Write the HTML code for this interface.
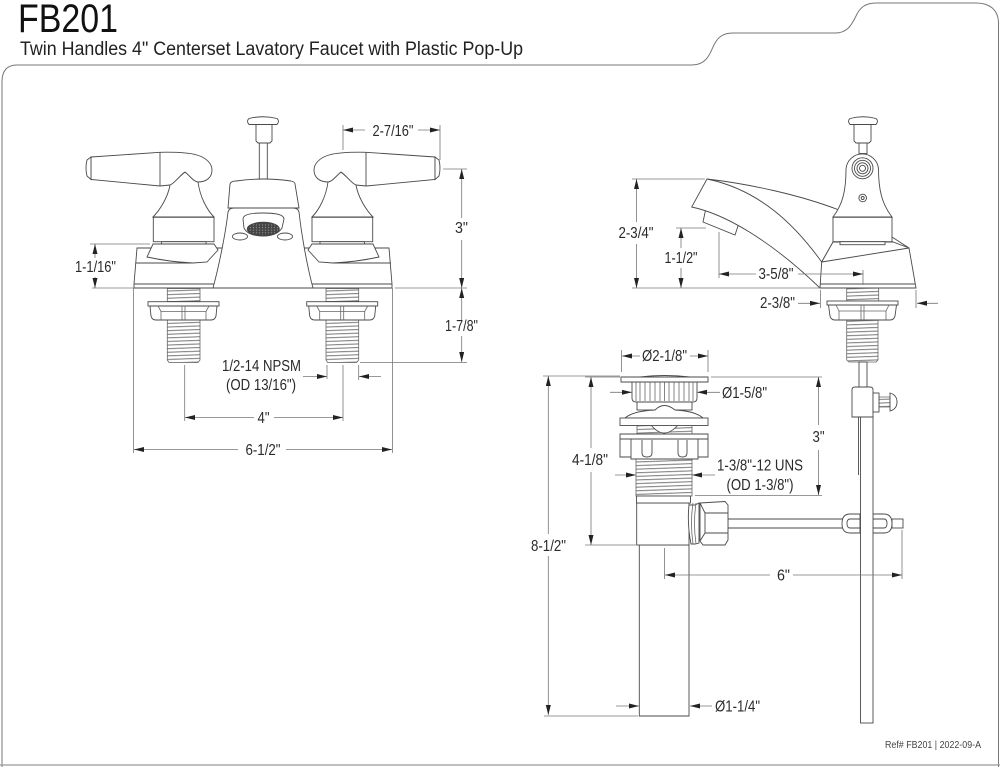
<!DOCTYPE html>
<html><head><meta charset="utf-8"><style>
html,body{margin:0;padding:0;background:#fff}
svg{display:block;filter:blur(.3px)}
text{font-family:"Liberation Sans",sans-serif;fill:#2a2a2a;font-size:15.5px}
.o{fill:none;stroke:#4a4a4a;stroke-width:.9}
.w{fill:#fff;stroke:#4a4a4a;stroke-width:.9}
.t{fill:none;stroke:#666;stroke-width:.8}
.d{fill:none;stroke:#777;stroke-width:.8}
.a{fill:none;stroke:#777;stroke-width:.8;marker-end:url(#ar)}
.h{fill:url(#th);stroke:#666;stroke-width:.8}
</style></head><body>
<svg xmlns="http://www.w3.org/2000/svg" width="1000" height="767" viewBox="0 0 1000 767">
<defs>
<marker id="ar" markerUnits="userSpaceOnUse" markerWidth="11" markerHeight="6" refX="10" refY="2.5" orient="auto"><path d="M0 0L10 2.5L0 5z" fill="#222"/></marker>
<pattern id="th" width="10" height="3.6" patternUnits="userSpaceOnUse" patternTransform="rotate(-2)"><rect width="10" height="3.6" fill="#fff"/><line x1="0" x2="10" y1="1.5" y2="1.5" stroke="#777" stroke-width="1"/></pattern>
<pattern id="me" width="3" height="2.6" patternUnits="userSpaceOnUse"><rect width="3" height="2.6" fill="#444"/><circle cx="1.5" cy="1.3" r=".7" fill="#8a8a8a"/></pattern>
<g id="handle">
<path class="w" d="M170 185C168 197 160 210 153 217H214C207 210 200 197 198 182L185 172Z"/>
<path class="w" d="M91 157L160 152.3C175 152 190 153 197 155C207 158 212 164 212 170C212 177 207 182 198 182C194 182 190 176 185 172C180 175 175 183 170 185L160 186L91 179.5Z"/>
<path class="o" d="M160 152.3V186"/>
<path class="w" d="M91 157L87 160Q85 168 87 176L91 179.5Z"/>
<rect class="w" x="153.3" y="217.3" width="60.7" height="24.4"/>
<rect class="w" x="161.5" y="241.7" width="44.5" height="3"/>
</g>
<g id="shank">
<rect class="h" x="167.3" y="288.5" width="32.7" height="13"/>
<path class="h" d="M167.3 320H200V360L198 362.5H169L167.3 360Z"/>
<rect class="w" x="148" y="301.7" width="71" height="4.3"/>
<path class="w" d="M150 306H217L216 316Q215 320 211 320H156Q152 320 151 316Z"/>
<path class="t" d="M158 306L161 311.5H206L209 306M161 311.5V320M206 311.5V320M182 306V320M185 306V320"/>
</g>
</defs>
<rect width="1000" height="767" fill="#fff"/>

<!-- frame -->
<path d="M2 767V82Q2 65 17 65H692C706 65 710 54 713 47C717 38 722 33 733 33H835C848 33 852 24 856 16C860 7 866 3 876 3H976C990 3 998 10 998.5 22V767" fill="none" stroke="#777" stroke-width="1"/>
<line x1="0" y1="765" x2="1000" y2="765" stroke="#999" stroke-width="1.2"/>
<text x="18" y="32" textLength="100" lengthAdjust="spacingAndGlyphs" style="font-size:40px;fill:#111">FB201</text>
<text x="20" y="55" textLength="503" lengthAdjust="spacingAndGlyphs" style="font-size:19px;fill:#222">Twin Handles 4" Centerset Lavatory Faucet with Plastic Pop-Up</text>

<!-- LEFT front view -->
<use href="#shank"/>
<use href="#shank" x="158.7"/>
<path class="w" d="M137 248L134 284V288H392V284L389 248Z"/>
<path class="o" d="M134 284H392M135.5 263H193M391 263H333"/>
<use href="#handle"/>
<use href="#handle" transform="translate(526,0) scale(-1,1)"/>
<path class="w" d="M153 244L147 257Q170 262 193 263L207 262L218 250L214 244Z"/>
<path class="w" d="M373 244L379 257Q356 262 333 263L319 262L308 250L312 244Z"/>
<rect class="w" x="259.3" y="143" width="8" height="36"/>
<path class="w" d="M256 124H272V141L270 143H258L256 141Z"/>
<path class="w" d="M249 118.5Q263 115 277 118.5Q280 121 277 124.5H249Q246 121 249 118.5Z"/>
<path class="w" d="M228 208L230 184Q231 181 236 181Q263 177 291 181Q295 182 295 184L299 208Z"/>
<path class="w" d="M213 288C220 262 226 230 228 212Q229 208 234 208H293Q298 208 299 212C301 230 306 262 313 288Z"/>
<path class="w" d="M243 219Q243 213 263 213Q284 213 284 219L282 228Q277 236 263 236Q248 236 244 228Z"/>
<ellipse cx="263.3" cy="229" rx="16" ry="6.7" fill="url(#me)" stroke="#444"/>
<ellipse class="w" cx="240" cy="236.5" rx="7.5" ry="3.5"/>
<ellipse class="w" cx="285" cy="236.5" rx="7.5" ry="3.5"/>

<!-- left dims -->
<path class="d" d="M343 125V150M440 125V160M443 169H467M395 288H467M360 362.5H467M90 244H150M92 288H134M133.5 288V453M392.5 288V453M184.7 365V421M343 365V421M327 365V379M358.7 365V380"/>
<path class="a" d="M365 130H343"/><path class="a" d="M418 130H440"/>
<path class="a" d="M461.7 218V169"/><path class="a" d="M461.7 240V288"/>
<path class="a" d="M461.7 320V288"/><path class="a" d="M461.7 336V362"/>
<path class="a" d="M95 258V244"/><path class="a" d="M95 277V288"/>
<path class="a" d="M303 376.5H327"/><path class="a" d="M381 376.5H359"/>
<path class="a" d="M254 417.5H185"/><path class="a" d="M274 417.5H343"/>
<path class="a" d="M238 449.5H134"/><path class="a" d="M286 449.5H392"/>
<text x="372.5" y="136" textLength="41" lengthAdjust="spacingAndGlyphs">2-7/16"</text>
<text x="455" y="233" textLength="13" lengthAdjust="spacingAndGlyphs">3"</text>
<text x="445" y="331" textLength="33" lengthAdjust="spacingAndGlyphs">1-7/8"</text>
<text x="75" y="272" textLength="41" lengthAdjust="spacingAndGlyphs">1-1/16"</text>
<text x="222" y="371" textLength="79" lengthAdjust="spacingAndGlyphs">1/2-14 NPSM</text>
<text x="226" y="390" textLength="70" lengthAdjust="spacingAndGlyphs">(OD 13/16")</text>
<text x="257.5" y="423" textLength="12" lengthAdjust="spacingAndGlyphs">4"</text>
<text x="245.5" y="455" textLength="35" lengthAdjust="spacingAndGlyphs">6-1/2"</text>

<!-- RIGHT side view -->
<rect class="h" x="846.7" y="288" width="32" height="13"/>
<path class="h" d="M846.7 320H878V360L876 362H849L846.7 360Z"/>
<rect class="w" x="827" y="301" width="71" height="4"/>
<path class="w" d="M828.5 305H896.5L895 316Q894 320 890 320H835Q831 320 830 316Z"/>
<path class="t" d="M836 305L839 311H886L889 305M839 311V320M886 311V320M861 305V320M864 305V320"/>
<path class="o" d="M839 210C800 195 750 184 707 179"/>
<path class="w" d="M706 208L703 222L735 235L740 220Z"/>
<path class="w" d="M707 179L691.7 207C725 214 770 240 820 288H860L833 242L821.7 262C795 225 760 190 707 179Z"/>
<path class="w" d="M833 217C843 204 846 190 846 169A16.3 16.3 0 0 1 878.5 169C878.5 190 882 204 892 217Z"/>
<circle class="o" cx="862.5" cy="168.3" r="10.5"/><circle class="o" cx="862.5" cy="168.3" r="8"/><circle class="o" cx="862.5" cy="168.3" r="5.5"/><circle class="o" cx="862.5" cy="168.3" r="3"/>
<circle class="o" cx="862.7" cy="198" r="3.8"/><circle class="o" cx="862.7" cy="198" r="1.5"/>
<rect class="w" x="859" y="143" width="8" height="10.5"/>
<path class="w" d="M854 124H871V141L869 143H856L854 141Z"/>
<path class="w" d="M850 118.5Q863 115 876 118.5Q879 121 876 124.5H850Q847 121 850 118.5Z"/>
<path class="w" d="M821.7 262L833 242H893L909 248L916 288H820Z"/>
<path class="o" d="M821.7 262L909 248M820 284H915M892 237L909 248"/>
<rect class="w" x="833" y="217.3" width="59" height="24.4"/>
<rect class="w" x="840" y="241.7" width="45" height="3"/>

<!-- rod and bracket -->
<rect class="w" x="859" y="362" width="8" height="25"/>
<path class="w" d="M728 519H843V528H728Z"/>
<rect class="w" x="892" y="519" width="11" height="9"/>
<path class="w" d="M860 514H850Q842 514 842 523.5Q842 533 850 533H860Z"/>
<path class="o" d="M860 519H850Q847 519 847 523.5Q847 528 850 528H860"/>
<path class="w" d="M873 514H884Q892 514 892 523.5Q892 533 884 533H873Z"/>
<path class="o" d="M873 519H884Q887 519 887 523.5Q887 528 884 528H873"/>
<rect class="w" x="860.5" y="417" width="12.5" height="306"/>
<path class="w" d="M852 417V390Q852 387 855 387H870Q873 387 873 390V417Z"/>
<path class="o" d="M858.5 417V475"/>
<path class="h" d="M879 397H890V407H879Z"/>
<rect class="w" x="873" y="393" width="6" height="19"/>
<path class="w" d="M890 393Q897 395 897 402Q897 409 890 411Z"/>

<!-- pop-up drain -->
<path class="w" d="M639.3 545H689V716H639.3Z"/>
<rect class="w" x="636.7" y="503" width="52.3" height="42"/>
<path class="w" d="M689 505H695L699 503V543L695 544H691Q687 524 689 505Z"/>
<path class="t" d="M693 503Q690 523 693 544M696 503Q693 523 696 544"/>
<path class="w" d="M700 503L725 501.500L728 505V540L725 545H703L700 541Z"/>
<path class="o" d="M700 503L705 513H728M700 541L705 533H728M705 513V533"/>
<rect class="h" x="636" y="459" width="56" height="37"/>
<rect class="w" x="636.5" y="496" width="54" height="7"/>
<rect class="h" x="637" y="425" width="55" height="9"/>
<path class="w" d="M620 434H708V457H698V459H631V457H620Z"/>
<path class="o" d="M631 439.5V457M698 439.5V457M620 439H708"/>
<path class="o" d="M642 440V453Q642 457 647 457Q652 457 652 453V440M678 440V453Q678 457 682.5 457Q687 457 687 453V440"/>
<path class="w" d="M651 425Q664 441 678 425Z"/>
<rect class="w" x="637" y="402" width="55" height="8"/>
<path class="w" d="M625 418Q633 411 655 410Q664 401 675 410Q695 411 703 418Z"/>
<rect class="w" x="620" y="418" width="88" height="7.500"/>
<path class="w" d="M632 382H697V398Q697 402 693 402H636Q632 402 632 398Z"/>
<path class="t" d="M636 382V401M640 382V401M645 382V401M650 382V401M655 382V401M660 382V401M664.5 382V401M669 382V401M674 382V401M679 382V401M684 382V401M689 382V401M693 382V401"/>
<path class="w" d="M621 377H708V382H621Z"/>
<path class="o" d="M640 377Q664 374 690 377"/>

<!-- right dims -->
<path class="d" d="M632 179H705M632 288H820M676 228H706M719 232V278M863 270V285M820.5 290V308M916 290V308M621.5 350V372M708 350V372M711 377H822M695 495.5H822M543 376H620M585 377H620M585 545H636M544 716H638M664.5 548V579M902 530V579"/>
<path class="a" d="M636.5 222V179"/><path class="a" d="M636.5 244V288"/>
<path class="a" d="M681 248V228"/><path class="a" d="M681 268V288"/>
<path class="a" d="M756 274H719"/><path class="a" d="M798 274H863"/>
<path class="a" d="M798 303.3H820"/><path class="a" d="M938 303.3H917"/>
<path class="a" d="M640 356H622"/><path class="a" d="M690 356H708"/>
<path class="a" d="M610 392.3H632"/><path class="a" d="M720 392.3H697"/>
<path class="a" d="M818.5 425V377"/><path class="a" d="M818.5 450V495"/>
<path class="a" d="M615 475H636"/><path class="a" d="M715 475H692"/>
<path class="a" d="M591 448V377"/><path class="a" d="M591 472V545"/>
<path class="a" d="M548.3 534V376"/><path class="a" d="M548.3 556V715"/>
<path class="a" d="M770 575H665"/><path class="a" d="M793 575H902"/>
<path class="a" d="M616 706H639"/><path class="a" d="M712 706H690"/>
<text x="618.5" y="238" textLength="35" lengthAdjust="spacingAndGlyphs">2-3/4"</text>
<text x="664.5" y="263" textLength="33" lengthAdjust="spacingAndGlyphs">1-1/2"</text>
<text x="758.5" y="279" textLength="35" lengthAdjust="spacingAndGlyphs">3-5/8"</text>
<text x="760" y="308" textLength="35" lengthAdjust="spacingAndGlyphs">2-3/8"</text>
<text x="642" y="361" textLength="45" lengthAdjust="spacingAndGlyphs">Ø2-1/8"</text>
<text x="722" y="398" textLength="45" lengthAdjust="spacingAndGlyphs">Ø1-5/8"</text>
<text x="812.5" y="442" textLength="12" lengthAdjust="spacingAndGlyphs">3"</text>
<text x="717" y="470.5" textLength="86" lengthAdjust="spacingAndGlyphs">1-3/8"-12 UNS</text>
<text x="726.5" y="490" textLength="67" lengthAdjust="spacingAndGlyphs">(OD 1-3/8")</text>
<text x="572" y="465" textLength="36" lengthAdjust="spacingAndGlyphs">4-1/8"</text>
<text x="531" y="551" textLength="35" lengthAdjust="spacingAndGlyphs">8-1/2"</text>
<text x="777" y="580.5" textLength="13" lengthAdjust="spacingAndGlyphs">6"</text>
<text x="715" y="711.5" textLength="45" lengthAdjust="spacingAndGlyphs">Ø1-1/4"</text>
<text x="885" y="748" textLength="96" lengthAdjust="spacingAndGlyphs" style="font-size:10px;fill:#444">Ref# FB201 | 2022-09-A</text>
</svg>
</body></html>
